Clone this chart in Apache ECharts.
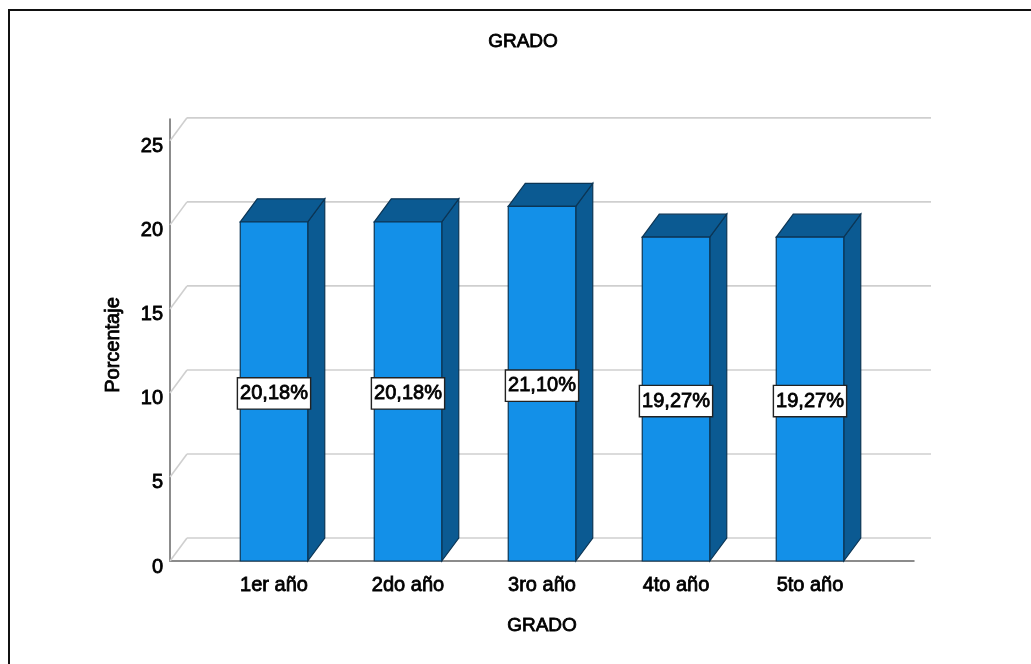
<!DOCTYPE html>
<html>
<head>
<meta charset="utf-8">
<style>
  html, body { margin: 0; padding: 0; background: #fff; }
  #chart { width: 1031px; height: 664px; }
</style>
<script src="https://cdn.jsdelivr.net/npm/echarts@6/dist/echarts.min.js"></script>
</head>
<body>
<div id="chart"></div>
<script>
const categories = ['1er año', '2do año', '3ro año', '4to año', '5to año']
const values = [20.18, 20.18, 21.10, 19.27, 19.27]
const valueLabels = ['20,18%', '20,18%', '21,10%', '19,27%', '19,27%']
const yTicks = [0, 5, 10, 15, 20, 25]

const FONT = '"Liberation Sans", Arial, sans-serif'
const DX = 17
const DY = -23
const BAR_W = 67.5
const yMax = 26.3

// el original tiene el texto algo engrosado
const heavy = { color: '#000', fontFamily: FONT, fontWeight: 'normal', textBorderColor: '#000', textBorderWidth: 0.8 }

const chart = echarts.init(document.getElementById('chart'))

// rejilla del fondo con la diagonal de la pared izquierda
function renderWall(params, api) {
  const v = api.value(0)
  const a = api.coord([0, v])
  const b = api.coord([1, v])
  const style = { stroke: '#cfcfcf', lineWidth: 1.6, fill: null }
  return {
    type: 'group',
    children: [
      { type: 'line', shape: { x1: a[0], y1: a[1], x2: a[0] + DX, y2: a[1] + DY }, style },
      { type: 'line', shape: { x1: a[0] + DX, y1: a[1] + DY, x2: b[0] + DX, y2: b[1] + DY }, style }
    ]
  }
}

// barra con cara frontal, lateral y superior
function renderBar(params, api) {
  const top = api.coord([api.value(0), api.value(1)])
  const base = api.coord([api.value(0), 0])
  const x0 = top[0] - BAR_W / 2
  const x1 = top[0] + BAR_W / 2
  const edge = { stroke: '#0b3555', lineWidth: 1.2 }
  return {
    type: 'group',
    children: [
      {
        type: 'polygon',
        shape: { points: [[x1, top[1]], [x1 + DX, top[1] + DY], [x1 + DX, base[1] + DY], [x1, base[1]]] },
        style: { fill: '#0b5a92', ...edge }
      },
      {
        type: 'polygon',
        shape: { points: [[x0, top[1]], [x0 + DX, top[1] + DY], [x1 + DX, top[1] + DY], [x1, top[1]]] },
        style: { fill: '#0b5a92', ...edge }
      },
      {
        type: 'rect',
        shape: { x: x0, y: top[1], width: BAR_W, height: base[1] - top[1] },
        style: { fill: '#1390e8', ...edge }
      }
    ]
  }
}

function renderLabel(params, api) {
  const p = api.coord([api.value(0), api.value(1) / 2])
  return {
    type: 'text',
    x: p[0],
    y: p[1] + 2,
    style: {
      text: valueLabels[params.dataIndex],
      align: 'center',
      verticalAlign: 'middle',
      font: '20px ' + FONT,
      fill: '#000',
      stroke: '#000',
      lineWidth: 0.8,
      backgroundColor: '#fff',
      borderColor: '#222',
      borderWidth: 1.4,
      padding: [7, 2, 3, 2]
    }
  }
}

const option = {
  animation: false,
  backgroundColor: '#fff',
  title: {
    text: 'GRADO',
    left: 518,
    top: 27,
    textAlign: 'center',
    textStyle: { ...heavy, fontSize: 19 }
  },
  graphic: [{
    type: 'polyline',
    shape: { points: [[9, 664], [9, 10], [1031, 10]] },
    style: { stroke: '#111', lineWidth: 2, fill: null }
  }],
  grid: [
    { left: 170, width: 744, top: 119, height: 442 },
    { left: 207, width: 670, top: 119, height: 442 }
  ],
  xAxis: [
    {
      gridIndex: 0,
      type: 'value',
      min: 0,
      max: 1,
      axisLine: { show: true, lineStyle: { color: '#666', width: 1.5 } },
      axisTick: { show: false },
      axisLabel: { show: false },
      splitLine: { show: false }
    },
    {
      gridIndex: 1,
      type: 'category',
      data: categories,
      name: 'GRADO',
      nameLocation: 'middle',
      nameGap: 55,
      nameTextStyle: { ...heavy, fontSize: 19 },
      axisLine: { show: false },
      axisTick: { show: false },
      axisLabel: { ...heavy, fontSize: 20, margin: 14 }
    }
  ],
  yAxis: [
    {
      gridIndex: 0,
      type: 'value',
      min: 0,
      max: yMax,
      name: 'Porcentaje',
      nameLocation: 'middle',
      nameGap: 47,
      nameTextStyle: { ...heavy, fontSize: 20, padding: [0, 10, 0, 0] },
      axisLine: { show: true, lineStyle: { color: '#666', width: 1.5 } },
      axisTick: { show: false },
      axisLabel: { ...heavy, customValues: yTicks, fontSize: 20, margin: 7, verticalAlign: 'top', lineHeight: 12 },
      splitLine: { show: false }
    },
    {
      gridIndex: 1,
      type: 'value',
      min: 0,
      max: yMax,
      show: false
    }
  ],
  series: [
    {
      type: 'custom',
      xAxisIndex: 0,
      yAxisIndex: 0,
      renderItem: renderWall,
      encode: { y: 0 },
      data: yTicks.map(v => [v]),
      silent: true,
      z: 1
    },
    {
      type: 'custom',
      xAxisIndex: 1,
      yAxisIndex: 1,
      renderItem: renderBar,
      encode: { x: 0, y: 1 },
      data: values.map((v, i) => [i, v]),
      z: 3
    },
    {
      type: 'custom',
      xAxisIndex: 1,
      yAxisIndex: 1,
      renderItem: renderLabel,
      encode: { x: 0, y: 1 },
      data: values.map((v, i) => [i, v]),
      z: 4
    }
  ]
}

chart.setOption(option)
</script>
</body>
</html>
